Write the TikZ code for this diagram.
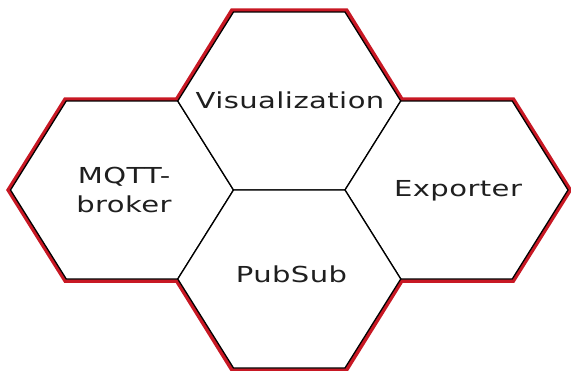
\documentclass[tikz,border=0pt]{standalone}
\usepackage{fontspec}
\newfontfamily\hexfont[FakeStretch=1.32,LetterSpace=2]{DejaVu Sans}
\definecolor{rimred}{RGB}{200,24,36}
\begin{document}
\begin{tikzpicture}[x=1pt,y=-1pt,
  hexagon/.pic={\path[pic actions] (-111.5,0) -- (-55.75,-89) -- (55.75,-89)
      -- (111.5,0) -- (55.75,89) -- (-55.75,89) -- cycle;},
  cell/.style={draw=black,fill=white,line width=1.3pt,line join=miter},
  rim/.style={draw=rimred,line width=7.5pt,line join=miter},
  label/.style={inner sep=0pt,font=\hexfont\fontsize{22}{29}\selectfont,text=black!88}]
\useasboundingbox (0,0) rectangle (571,370);
% hexagon centres
\coordinate (L) at (122,190);
\coordinate (T) at (289.25,101);
\coordinate (R) at (456.5,190);
\coordinate (B) at (289.25,279);
% red rim around the whole cluster
\draw[rim] (10.5,190) -- (66.25,101) -- (177.75,101) -- (233,12) -- (345.5,12)
  -- (400.75,101) -- (512.25,101) -- (568,190) -- (512.25,279) -- (400.75,279)
  -- (345.5,368) -- (233,368) -- (177.75,279) -- (66.25,279) -- cycle;
% the four cells
\pic[cell] at (L) {hexagon};
\pic[cell] at (T) {hexagon};
\pic[cell] at (R) {hexagon};
\pic[cell] at (B) {hexagon};
% labels
\node[label,anchor=base] (vis) at (290,108) {Visualization};
\node[label,align=center,anchor=center] (mqtt) at (124,189.7) {MQTT-\\broker};
\node[label,anchor=base] (exp) at (458,196.7) {Exporter};
\node[label,anchor=base] (pub) at (291.5,282) {PubSub};
\end{tikzpicture}
\end{document}
